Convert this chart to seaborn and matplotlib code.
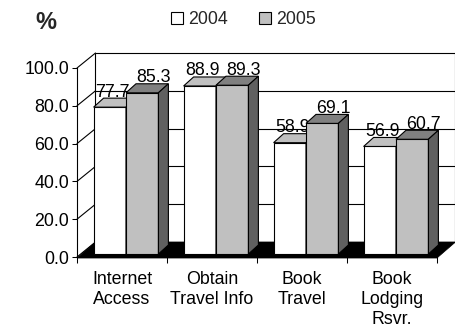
import matplotlib
matplotlib.use("Agg")
import matplotlib.pyplot as plt
import numpy as np
import pandas as pd
import seaborn as sns
from matplotlib.patches import Polygon
from matplotlib.lines import Line2D
from matplotlib.transforms import ScaledTranslation, IdentityTransform

# ---- data ----
categories = ["Internet\nAccess", "Obtain\nTravel Info", "Book\nTravel", "Book\nLodging\nRsvr."]
years = ["2004", "2005"]
values_2004 = [77.7, 88.9, 58.9, 56.9]
values_2005 = [85.3, 89.3, 69.1, 60.7]
y_ticks = [0, 20, 40, 60, 80, 100]

# ---- style ----
front_colors = {"2004": "#FFFFFF", "2005": "#C0C0C0"}
top_colors = {"2004": "#C0C0C0", "2005": "#808080"}
side_colors = {"2004": "#A0A0A0", "2005": "#606060"}
label_dx = {"2004": 3.0, "2005": 11.0}
zorders = {"2004": 3, "2005": 4}

df = pd.DataFrame({
    "category": categories * 2,
    "year": [years[0]] * len(categories) + [years[1]] * len(categories),
    "value": values_2004 + values_2005,
})

sns.set_theme(style="white")
plt.rcParams["font.family"] = ["Liberation Sans", "DejaVu Sans"]
FS = 12.8
DPI = 100
W, H = 456, 334

fig = plt.figure(figsize=(W / DPI, H / DPI), dpi=DPI)
fig.patch.set_facecolor("white")
ax = fig.add_axes([77 / W, 77 / H, 360 / W, 189 / H])
ax.patch.set_visible(False)

sns.barplot(data=df, x="category", y="value", hue="year", hue_order=years,
            order=categories, palette=front_colors, width=0.72, saturation=1,
            edgecolor="black", linewidth=0.8, errorbar=None, ax=ax, legend=True)

handles, labels = ax.get_legend_handles_labels()
if ax.get_legend() is not None:
    ax.get_legend().remove()

ax.set_xlim(-0.5, len(categories) - 0.5)
ax.set_ylim(0, 100)
ax.set_xlabel("")
ax.set_ylabel("")

# pixel geometry for the pseudo-3D look
D = np.array([18.5, 15.0])   # depth of the whole box
B = np.array([4.0, 3.0])     # bar front-face offset
d = np.array([10.0, 9.0])    # bar depth
IT = IdentityTransform()
x_lo, x_hi = ax.get_xlim()


def px(x, y):
    return ax.transData.transform((x, y))


# back wall
wall = Polygon([px(x_lo, 0) + D, px(x_hi, 0) + D, px(x_hi, 100) + D, px(x_lo, 100) + D],
               closed=True, facecolor="white", edgecolor="black", linewidth=0.8,
               transform=IT, clip_on=False, zorder=0.5)
ax.add_artist(wall)
for t in y_ticks[1:-1]:
    p0, p1 = px(x_lo, t) + D, px(x_hi, t) + D
    ax.add_artist(Line2D([p0[0], p1[0]], [p0[1], p1[1]], color="black", linewidth=0.8,
                         transform=IT, clip_on=False, zorder=0.6))
for t in y_ticks:
    p0 = px(x_lo, t)
    p1 = p0 + D
    ax.add_artist(Line2D([p0[0], p1[0]], [p0[1], p1[1]], color="black", linewidth=0.8,
                         transform=IT, clip_on=False, zorder=0.6))

# floor
floor = Polygon([px(x_lo, 0) + np.array([0, -1.0]), px(x_hi, 0) + np.array([0, -1.0]),
                 px(x_hi, 0) + D, px(x_lo, 0) + D],
                closed=True, facecolor="black", edgecolor="black", linewidth=0.5,
                transform=IT, clip_on=False, zorder=1)
ax.add_artist(floor)

shift = ScaledTranslation(B[0] / DPI, B[1] / DPI, fig.dpi_scale_trans)
for cont, yr in zip(ax.containers, years):
    zo = zorders[yr]
    for rect in cont.patches:
        rect.set_transform(ax.transData + shift)
        rect.set_zorder(zo)
        rect.set_clip_on(False)
        x0, w, h = rect.get_x(), rect.get_width(), rect.get_height()
        bl = px(x0, 0) + B
        br = px(x0 + w, 0) + B
        tl = px(x0, h) + B
        tr = px(x0 + w, h) + B
        top = Polygon([tl, tr, tr + d, tl + d], closed=True, facecolor=top_colors[yr],
                      edgecolor="black", linewidth=0.8, transform=IT, clip_on=False, zorder=zo)
        side = Polygon([br, tr, tr + d, br + d], closed=True, facecolor=side_colors[yr],
                       edgecolor="black", linewidth=0.8, transform=IT, clip_on=False, zorder=zo)
        ax.add_artist(top)
        ax.add_artist(side)
        cx = (tl[0] + tr[0]) / 2 + label_dx[yr]
        ax.text(cx, tl[1] + 10.5, f"{h:.1f}", transform=IT, ha="center", va="baseline",
                fontsize=FS, color="black", zorder=zo + 0.5, clip_on=False)

# axes styling
for s in ["top", "right"]:
    ax.spines[s].set_visible(False)
for s in ["left", "bottom"]:
    ax.spines[s].set_visible(True)
    ax.spines[s].set_color("black")
    ax.spines[s].set_linewidth(0.8)
    ax.spines[s].set_zorder(2)

ax.set_yticks(y_ticks)
ax.set_yticklabels([f"{t:.1f}" for t in y_ticks])
ax.tick_params(axis="y", which="major", left=True, length=3.6, width=0.75, pad=2,
               labelsize=FS, colors="black", direction="out")
ax.set_xticks(range(len(categories)))
ax.set_xticklabels(categories)
for lbl in ax.get_xticklabels():
    lbl.set_linespacing(1.25)
ax.set_xticks([i - 0.5 for i in range(len(categories) + 1)], minor=True)
ax.tick_params(axis="x", which="major", bottom=False, length=0, pad=10,
               labelsize=FS, colors="black")
ax.tick_params(axis="x", which="minor", bottom=True, length=4, width=0.75,
               direction="out", color="black")
ax.grid(False)

for hnd in handles:
    hnd.set_edgecolor("black")
    hnd.set_linewidth(0.8)
fig.legend(handles, labels, loc="center left", bbox_to_anchor=(171 / W, 1 - 19.5 / H),
           ncol=2, frameon=False, fontsize=FS, handlelength=0.7, handleheight=0.7,
           handletextpad=0.25, columnspacing=1.75, borderpad=0, borderaxespad=0)

fig.text(35 / W, 1 - 22.5 / H, "%", fontsize=17, fontweight="bold", va="center", ha="left")

fig.savefig("out.png", dpi=DPI, facecolor="white")
